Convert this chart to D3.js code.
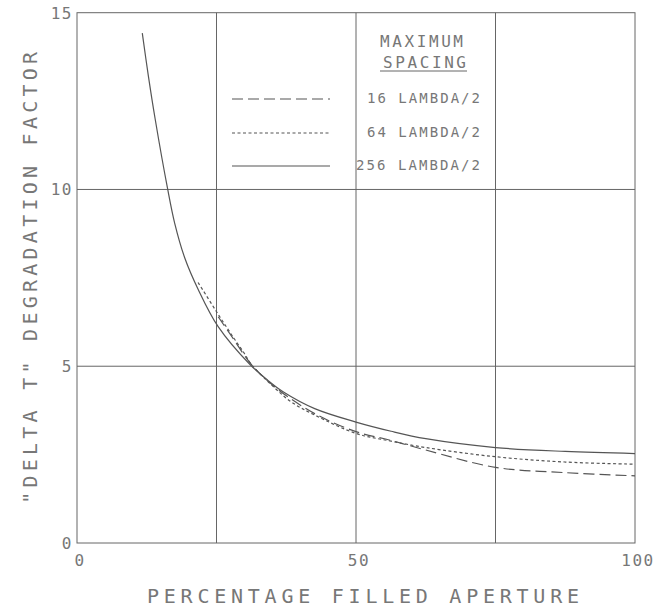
<!DOCTYPE html>
<html>
<head>
<meta charset="utf-8">
<script src="https://cdn.jsdelivr.net/npm/d3@7"></script>
<style>
  body { margin: 0; background: #fff; }
  svg text { font-family: "DejaVu Sans Mono", monospace; fill: #777; }
</style>
</head>
<body>
<div id="chart"></div>
<script>
var width = 659,
    height = 608;

var margin = {left: 77, right: 24, top: 12.7, bottom: 65};

// curve readings, percentage filled aperture vs degradation factor
var x256 = [11.7, 12.8, 14.0, 16.2, 17.5, 19.3, 21.7, 25.3, 31.0, 34.2, 37.0, 42.6, 50.0, 56.3, 62.5, 75.0, 87.5, 100];
var y256 = [14.42, 13.2, 12.0, 10.05, 9.05, 8.07, 7.18, 6.12, 5.05, 4.6, 4.27, 3.80, 3.42, 3.16, 2.95, 2.70, 2.59, 2.53];

var x64 = [21.7, 25.3, 28.0, 30.0, 31.2, 35.0, 38.4, 42.6, 50.0, 56.3, 62.5, 75.0, 87.5, 100];
var y64 = [7.37, 6.47, 5.82, 5.36, 5.06, 4.45, 3.99, 3.62, 3.10, 2.88, 2.70, 2.44, 2.29, 2.23];

var x16 = [25.3, 28.0, 31.2, 35.4, 42.6, 50.0, 56.3, 62.5, 75.0, 87.5, 100];
var y16 = [6.40, 5.78, 5.06, 4.42, 3.66, 3.15, 2.90, 2.63, 2.14, 1.99, 1.90];

var xTicks = [0, 50, 100];
var xGrid = [25, 50, 75];
var yTicks = [0, 5, 10, 15];
var yGrid = [5, 10];

var legendTitle = ["MAXIMUM", "SPACING"];
var legendLabels = ["16 LAMBDA/2", "64 LAMBDA/2", "256 LAMBDA/2"];

var series = [
  {label: legendLabels[0], xs: x16, ys: y16, dash: "11,5"},
  {label: legendLabels[1], xs: x64, ys: y64, dash: "3,2.5"},
  {label: legendLabels[2], xs: x256, ys: y256, dash: null}
];

var svg = d3.select("#chart").append("svg")
  .attr("width", width)
  .attr("height", height);

var x = d3.scaleLinear().domain([0, 100]).range([margin.left, width - margin.right]);
var y = d3.scaleLinear().domain([0, 15]).range([height - margin.bottom, margin.top]);

var ink = "#666";

// grid
svg.append("g").selectAll("line").data(xGrid).enter().append("line")
  .attr("x1", d => x(d)).attr("x2", d => x(d))
  .attr("y1", y(0)).attr("y2", y(15))
  .attr("stroke", ink).attr("stroke-width", 1);

svg.append("g").selectAll("line").data(yGrid).enter().append("line")
  .attr("x1", x(0)).attr("x2", x(100))
  .attr("y1", d => y(d)).attr("y2", d => y(d))
  .attr("stroke", ink).attr("stroke-width", 1);

// frame
svg.append("rect")
  .attr("x", x(0)).attr("y", y(15))
  .attr("width", x(100) - x(0)).attr("height", y(0) - y(15))
  .attr("fill", "none").attr("stroke", ink).attr("stroke-width", 1);

// tick labels
svg.append("g").selectAll("text").data(yTicks).enter().append("text")
  .attr("x", x(0) - 4)
  .attr("y", d => y(d) + 6)
  .attr("text-anchor", "end")
  .attr("font-size", 16)
  .attr("letter-spacing", 1.5)
  .text(d => d);

svg.append("g").selectAll("text").data(xTicks).enter().append("text")
  .attr("x", d => x(d) + 3)
  .attr("y", y(0) + 23)
  .attr("text-anchor", "middle")
  .attr("font-size", 16)
  .attr("letter-spacing", 1.5)
  .text(d => d);

// axis titles
svg.append("text")
  .attr("x", 147).attr("y", 603)
  .attr("font-size", 20)
  .attr("textLength", 432)
  .attr("lengthAdjust", "spacing")
  .text("PERCENTAGE FILLED APERTURE");

svg.append("text")
  .attr("transform", "translate(37," + (y(7.5) + 226) + ") rotate(-90)")
  .attr("font-size", 20)
  .attr("textLength", 452)
  .attr("lengthAdjust", "spacing")
  .text("\"DELTA T\" DEGRADATION FACTOR");

// curves
var line = d3.line()
  .x(d => x(d[0]))
  .y(d => y(d[1]))
  .curve(d3.curveCatmullRom.alpha(0.5));

series.forEach(function(s) {
  svg.append("path")
    .datum(d3.zip(s.xs, s.ys))
    .attr("d", line)
    .attr("fill", "none")
    .attr("stroke", "#555")
    .attr("stroke-width", 1.2)
    .attr("stroke-dasharray", s.dash);
});

// legend
var lg = svg.append("g");
lg.selectAll("text.head").data(legendTitle).enter().append("text")
  .attr("class", "head")
  .attr("x", (d, i) => i ? 383 : 380)
  .attr("y", (d, i) => 47 + i * 21)
  .attr("font-size", 16)
  .attr("textLength", 83)
  .attr("lengthAdjust", "spacing")
  .text(d => d);

lg.append("line")
  .attr("x1", 380).attr("x2", 467)
  .attr("y1", 71).attr("y2", 71)
  .attr("stroke", ink);

var rowY = [103, 137, 170];
var rowW = [113, 113, 124];

series.forEach(function(s, i) {
  lg.append("line")
    .attr("x1", 232).attr("x2", 330)
    .attr("y1", rowY[i] - 4).attr("y2", rowY[i] - 4)
    .attr("stroke", "#555")
    .attr("stroke-width", 1.2)
    .attr("stroke-dasharray", s.dash);
  lg.append("text")
    .attr("x", 480 - rowW[i])
    .attr("y", rowY[i])
    .attr("font-size", 14)
    .attr("textLength", rowW[i])
    .attr("lengthAdjust", "spacing")
    .text(s.label);
});
</script>
</body>
</html>
